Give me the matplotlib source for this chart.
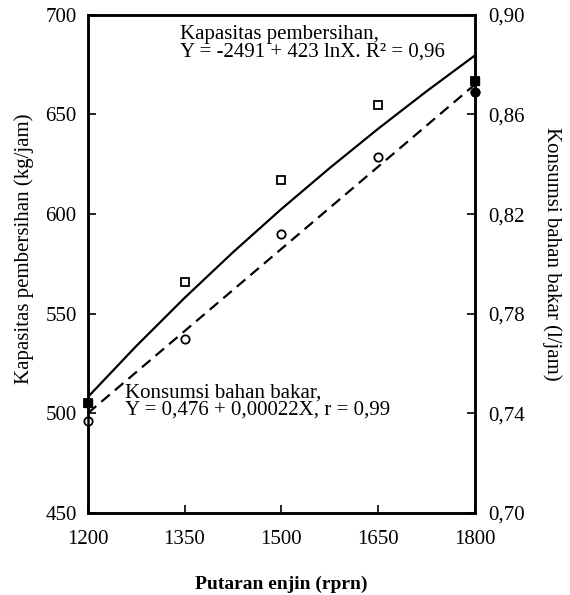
import matplotlib.pyplot as plt

plt.rcParams['font.family'] = ['Liberation Serif', 'DejaVu Serif']

# measured points (putaran enjin, rpm)
rpm_pts = [1200, 1350, 1500, 1650, 1800]
kapasitas_pts = [505, 566, 617, 655, 667]          # kg/jam
konsumsi_pts = [0.737, 0.770, 0.812, 0.843, 0.869]  # l/jam

# fitted curves
rpm_fit = [1200, 1275, 1350, 1425, 1500, 1575, 1650, 1725, 1800]
kapasitas_fit = [508.1, 533.7, 557.9, 580.8, 602.5, 623.1, 642.8, 661.6, 679.6]
rpm_lin = [1200, 1800]
konsumsi_fit = [0.740, 0.872]

fig = plt.figure(figsize=(5.7, 5.95), dpi=100)
ax = fig.add_axes([0.154, 0.138, 0.679, 0.837])
ax2 = ax.twinx()

ax.plot(rpm_fit, kapasitas_fit, color='black', lw=1.6)
ax.plot(rpm_pts, kapasitas_pts, 's', ms=6, mfc='white', mec='black', mew=1.3, clip_on=False)
ax.plot(rpm_pts[0], kapasitas_pts[0], 's', ms=6, color='black', clip_on=False)
ax.plot(rpm_pts[-1], kapasitas_pts[-1], 's', ms=6, color='black', clip_on=False)

ax2.plot(rpm_lin, konsumsi_fit, color='black', lw=1.6, dashes=(5, 3))
ax2.plot(rpm_pts, konsumsi_pts, 'o', ms=6, mfc='white', mec='black', mew=1.3, clip_on=False)
ax2.plot(rpm_pts[-1], konsumsi_pts[-1], 'o', ms=6, color='black', clip_on=False)

ax.set_xlim(1200, 1800)
ax.set_ylim(450, 700)
ax2.set_ylim(0.70, 0.90)

ax.set_xticks([1200, 1350, 1500, 1650, 1800])
ax.set_yticks([450, 500, 550, 600, 650, 700])
ax2.set_yticks([0.70, 0.74, 0.78, 0.82, 0.86, 0.90])
ax2.set_yticklabels(['0,70', '0,74', '0,78', '0,82', '0,86', '0,90'])

ax.tick_params(axis='both', direction='in', length=6, width=1.2, labelsize=15)
ax.tick_params(axis='x', pad=12)
ax.tick_params(axis='y', pad=8)
ax2.tick_params(axis='y', direction='in', length=6, width=1.2, labelsize=15, pad=10)

for a in (ax, ax2):
    for s in a.spines.values():
        s.set_linewidth(1.8)

ax.set_ylabel('Kapasitas pembersihan (kg/jam)', fontsize=15)
ax2.set_ylabel('Konsumsi bahan bakar (l/jam)', fontsize=15, rotation=-90, va='center')
ax.set_xlabel('Putaran enjin (rprn)', fontsize=14, fontweight='bold')
ax.yaxis.set_label_coords(-0.14, 0.53)
ax2.yaxis.set_label_coords(1.2, 0.52)
ax.xaxis.set_label_coords(0.5, -0.127)

ax.text(1343, 695, 'Kapasitas pembersihan,\nY = -2491 + 423 lnX. R² = 0,96',
        fontsize=15, va='top', ha='left', linespacing=0.9)
ax.text(1258, 515, 'Konsumsi bahan bakar,\nY = 0,476 + 0,00022X, r = 0,99',
        fontsize=15, va='top', ha='left', linespacing=0.9)

fig.savefig('out.png', dpi=100)
